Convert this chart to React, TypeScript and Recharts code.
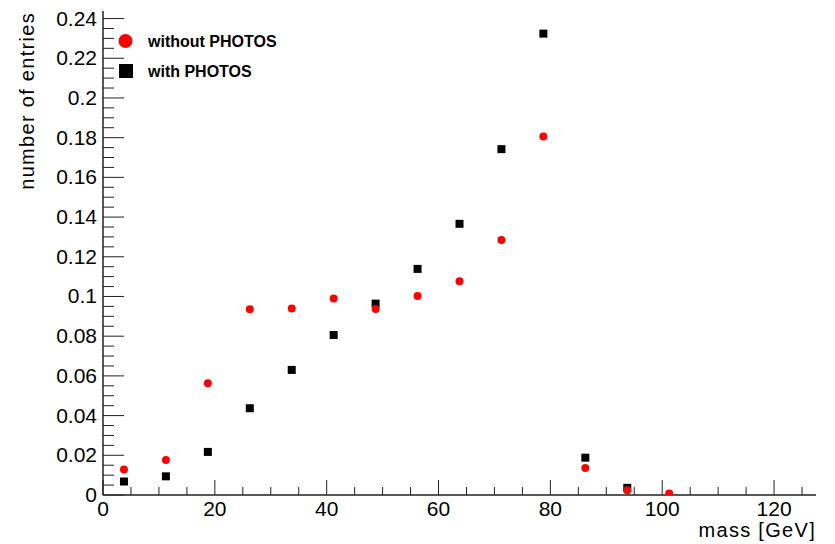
import React from "react";
import { ScatterChart, Scatter, XAxis, YAxis, Customized } from "recharts";

// Bin centres of the mass histogram (bin width 7.5 GeV)
const massBins = [3.75, 11.25, 18.75, 26.25, 33.75, 41.25, 48.75, 56.25, 63.75, 71.25, 78.75, 86.25, 93.75, 101.25];

// Normalised entries per bin
const withoutPhotos = [0.0128, 0.0176, 0.0563, 0.0936, 0.094, 0.099, 0.0937, 0.1003, 0.1077, 0.1285, 0.1806, 0.0136, 0.0024, 0.0007];
const withPhotos = [0.0068, 0.0094, 0.0217, 0.0437, 0.063, 0.0806, 0.0964, 0.1139, 0.1366, 0.1742, 0.2324, 0.0188, 0.0036];

// Axis ticks
const xMajorTicks = [0, 20, 40, 60, 80, 100, 120];
const xStep = 5;
const yMajorTicks = [0, 0.02, 0.04, 0.06, 0.08, 0.1, 0.12, 0.14, 0.16, 0.18, 0.2, 0.22, 0.24];
const yStep = 0.005;

const X_MAX = 127.5;
const Y_MAX = 0.2438;

const legendItems = ["without PHOTOS", "with PHOTOS"];
const xTitle = "mass [GeV]";
const yTitle = "number of entries";

const FONT = "'Liberation Sans', Arial, Helvetica, sans-serif";

const xTicks: number[] = [];
for (let i = 0; i * xStep <= X_MAX; i++) xTicks.push(i * xStep);
const yTicks: number[] = [];
for (let i = 0; i * yStep <= 0.24 + 1e-9; i++) yTicks.push(Number((i * yStep).toFixed(3)));

const isMajor = (v: number, majors: number[]) => majors.some((m) => Math.abs(m - v) < 1e-9);

const redData = massBins.map((x, i) => ({ x, y: withoutPhotos[i] }));
const blackData = withPhotos.map((y, i) => ({ x: massBins[i], y }));

const XTick = (props: any) => {
  const { x, y, payload } = props;
  const v = payload.value as number;
  const major = isMajor(v, xMajorTicks);
  return (
    <g>
      <line x1={x} y1={y} x2={x} y2={y - (major ? 15 : 8)} stroke="#222" strokeWidth={1} />
      {major && (
        <text x={x} y={y + 21} textAnchor="middle" fontFamily={FONT} fontSize={21} fill="#000">
          {v}
        </text>
      )}
    </g>
  );
};

const YTick = (props: any) => {
  const { x, y, payload } = props;
  const v = payload.value as number;
  const major = isMajor(v, yMajorTicks);
  return (
    <g>
      <line x1={x} y1={y} x2={x + (major ? 21 : 11)} y2={y} stroke="#222" strokeWidth={1} />
      {major && (
        <text x={x - 6} y={y + 7} textAnchor="end" fontFamily={FONT} fontSize={21} fill="#000">
          {String(Number(v.toFixed(2)))}
        </text>
      )}
    </g>
  );
};

const RedDot = (props: any) => <circle cx={props.cx} cy={props.cy} r={4} fill="#ff0000" />;
const BlackSquare = (props: any) => (
  <rect x={props.cx - 4} y={props.cy - 4} width={8} height={8} fill="#000" />
);

const Decorations = () => (
  <g fontFamily={FONT}>
    <circle cx={125.5} cy={41} r={7} fill="#ff0000" />
    <text x={148} y={47} fontSize={16} fontWeight="bold" fill="#000">
      {legendItems[0]}
    </text>
    <rect x={119} y={64} width={14} height={14} fill="#000" />
    <text x={148} y={77} fontSize={16} fontWeight="bold" fill="#000">
      {legendItems[1]}
    </text>
    <text x={816} y={537} textAnchor="end" fontSize={20} letterSpacing={1.3} fill="#000">
      {xTitle}
    </text>
    <text
      x={34}
      y={12}
      transform="rotate(-90 34 12)"
      textAnchor="end"
      fontSize={20}
      letterSpacing={1.3}
      fill="#000"
    >
      {yTitle}
    </text>
  </g>
);

export default function App() {
  return (
    <div style={{ position: "absolute", left: 0, top: 0, width: 835, height: 544, background: "#fff" }}>
      <ScatterChart width={835} height={544} margin={{ top: 11, right: 19, bottom: 0, left: 0 }}>
        <XAxis
          xAxisId="top"
          orientation="top"
          type="number"
          dataKey="x"
          domain={[0, X_MAX]}
          height={0}
          tick={false}
          tickLine={false}
          axisLine={{ stroke: "#888", strokeWidth: 1.5 }}
        />
        <YAxis
          yAxisId="right"
          orientation="right"
          type="number"
          dataKey="y"
          domain={[0, Y_MAX]}
          width={0}
          tick={false}
          tickLine={false}
          axisLine={{ stroke: "#888", strokeWidth: 1.5 }}
        />
        <XAxis
          type="number"
          dataKey="x"
          domain={[0, X_MAX]}
          ticks={xTicks}
          interval={0}
          height={49}
          tickSize={0}
          tickMargin={0}
          tick={<XTick />}
          tickLine={false}
          axisLine={{ stroke: "#222", strokeWidth: 1.5 }}
          allowDataOverflow
        />
        <YAxis
          type="number"
          dataKey="y"
          domain={[0, Y_MAX]}
          ticks={yTicks}
          interval={0}
          width={103}
          tickSize={0}
          tickMargin={0}
          tick={<YTick />}
          tickLine={false}
          axisLine={{ stroke: "#222", strokeWidth: 1.5 }}
          allowDataOverflow
        />
        <Scatter data={blackData} shape={<BlackSquare />} isAnimationActive={false} />
        <Scatter data={redData} shape={<RedDot />} isAnimationActive={false} />
        <Customized component={Decorations} />
      </ScatterChart>
    </div>
  );
}
